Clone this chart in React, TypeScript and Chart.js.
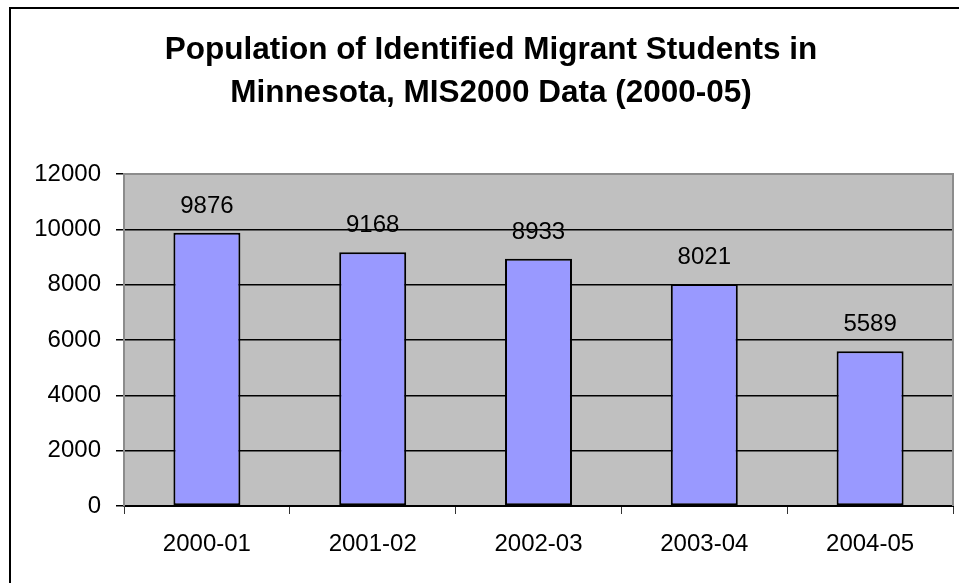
import React, { useEffect, useRef } from "react";
import { Chart, registerables } from "chart.js";

Chart.register(...registerables);

const TITLE_LINES = [
  "Population of Identified Migrant Students in",
  "Minnesota, MIS2000 Data (2000-05)",
];
const CATEGORIES = ["2000-01", "2001-02", "2002-03", "2003-04", "2004-05"];
const VALUES = [9876, 9168, 8933, 8021, 5589];
const Y_MIN = 0;
const Y_MAX = 12000;
const Y_STEP = 2000;

const FONT = "'Liberation Sans', Arial, sans-serif";

const framePlugin = {
  id: "frame",
  beforeDraw(chart: any) {
    const { ctx, chartArea: a } = chart;
    ctx.save();
    ctx.fillStyle = "#ffffff";
    ctx.fillRect(0, 0, chart.width, chart.height);
    ctx.fillStyle = "#000";
    ctx.fillRect(9, 7, 2, chart.height - 7);
    ctx.fillRect(9, 7, chart.width - 9, 2);
    ctx.fillStyle = "#C0C0C0";
    ctx.fillRect(a.left, a.top, a.right - a.left, a.bottom - a.top);
    ctx.restore();
  },
  afterDatasetsDraw(chart: any) {
    const { ctx, chartArea: a } = chart;
    ctx.save();
    ctx.strokeStyle = "#8C8C8C";
    ctx.lineWidth = 2;
    ctx.beginPath();
    ctx.moveTo(a.left, a.top);
    ctx.lineTo(a.right, a.top);
    ctx.lineTo(a.right, a.bottom);
    ctx.stroke();
    const meta = chart.getDatasetMeta(0);
    ctx.fillStyle = "#000";
    ctx.font = `24px ${FONT}`;
    ctx.textAlign = "center";
    ctx.textBaseline = "alphabetic";
    meta.data.forEach((el: any, i: number) => {
      ctx.fillText(String(VALUES[i]), el.x, el.y - 20);
    });
    ctx.font = `bold 31.5px ${FONT}`;
    ctx.fillText(TITLE_LINES[0], 491, 59);
    ctx.fillText(TITLE_LINES[1], 491, 102);
    ctx.restore();
  },
};

export default function App() {
  const ref = useRef<HTMLCanvasElement>(null);
  useEffect(() => {
    document.body.style.margin = "0";
    const chart = new Chart(ref.current as HTMLCanvasElement, {
      type: "bar",
      data: {
        labels: CATEGORIES,
        datasets: [
          {
            data: VALUES,
            backgroundColor: "#9999FF",
            borderColor: "#000000",
            borderWidth: 2,
            borderSkipped: false,
            categoryPercentage: 1,
            barPercentage: 0.404,
          },
        ],
      },
      options: {
        animation: false,
        responsive: false,
        maintainAspectRatio: false,
        devicePixelRatio: 1,
        layout: { padding: { top: 174, right: 6, left: 0, bottom: 0 } },
        plugins: {
          legend: { display: false },
          title: { display: false },
          tooltip: { enabled: false },
        },
        scales: {
          x: {
            afterFit: (s: any) => {
              s.height = 77;
            },
            grid: {
              offset: true,
              drawOnChartArea: false,
              drawTicks: true,
              tickLength: 8,
              tickColor: "#333",
              lineWidth: 1,
            },
            border: { display: true, color: "#000", width: 2 },
            ticks: {
              color: "#000",
              font: { family: FONT, size: 24 },
              padding: 16,
              maxRotation: 0,
            },
          },
          y: {
            min: Y_MIN,
            max: Y_MAX,
            afterFit: (s: any) => {
              s.width = 124;
            },
            grid: {
              color: (c: any) => (c.tick && c.tick.value === Y_MAX ? "rgba(0,0,0,0)" : "#000"),
              tickColor: "#000",
              tickLength: 8,
              lineWidth: 1.5,
            },
            border: { display: true, color: "#8C8C8C", width: 2 },
            ticks: {
              stepSize: Y_STEP,
              color: "#000",
              font: { family: FONT, size: 24 },
              padding: 15,
              callback: (v: any) => String(v),
            },
          },
        },
      },
      plugins: [framePlugin],
    });
    return () => chart.destroy();
  }, []);
  return (
    <div style={{ width: 959, height: 583, position: "relative" }}>
      <canvas ref={ref} width={959} height={583} style={{ display: "block" }} />
    </div>
  );
}
